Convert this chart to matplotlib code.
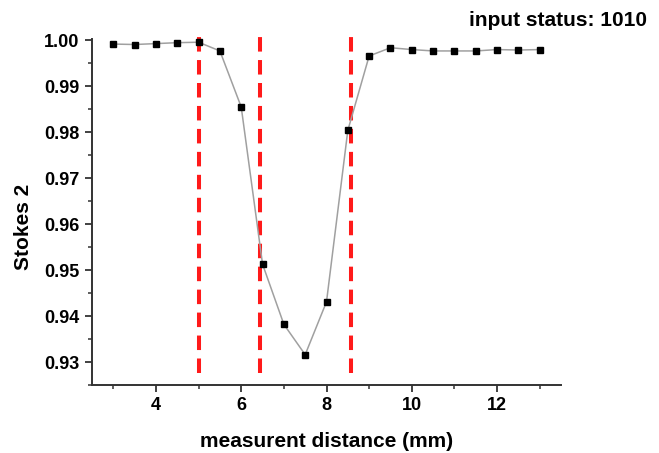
import matplotlib
matplotlib.use("Agg")
import matplotlib.pyplot as plt
from matplotlib.ticker import MultipleLocator, FormatStrFormatter

# --- Daten ---
distance = [3, 3.5, 4, 4.5, 5, 5.5, 6, 6.5, 7, 7.5, 8, 8.5, 9, 9.5, 10, 10.5, 11, 11.5, 12, 12.5, 13]
stokes2 = [0.9992, 0.9991, 0.9993, 0.9995, 0.9996, 0.9977, 0.9855, 0.9513, 0.9382, 0.9316, 0.9431,
           0.9804, 0.9966, 0.9984, 0.9980, 0.9977, 0.9977, 0.9977, 0.9980, 0.9979, 0.9980]
boundaries = [5.0, 6.45, 8.57]

plt.rcParams['font.family'] = ['Liberation Sans', 'DejaVu Sans']
plt.rcParams['font.weight'] = 'bold'

fig = plt.figure(figsize=(6.59, 4.53), dpi=100)
ax = fig.add_axes([92 / 659, 1 - 385 / 453, (561 - 92) / 659, (385 - 39) / 453])

# rote Grenzlinien
for b in boundaries:
    ax.plot([b, b], [0.9276, 1.002], color="#ff1a1a", linewidth=2.9,
            dashes=(3.6, 2.1), clip_on=False, zorder=2)

ax.plot(distance, stokes2, color="#a0a0a0", linewidth=1.1, marker="s",
        markersize=5, markerfacecolor="black", markeredgecolor="black",
        clip_on=False, zorder=3)

ax.set_xlim(2.5, 13.5)
ax.set_ylim(0.925, 1.0003)
ax.xaxis.set_major_locator(MultipleLocator(2))
ax.xaxis.set_minor_locator(MultipleLocator(1))
ax.yaxis.set_major_locator(MultipleLocator(0.01))
ax.yaxis.set_minor_locator(MultipleLocator(0.005))
ax.yaxis.set_major_formatter(FormatStrFormatter("%.2f"))

for s in ["top", "right"]:
    ax.spines[s].set_visible(False)
for s in ["left", "bottom"]:
    ax.spines[s].set_linewidth(1.4)
    ax.spines[s].set_color("#333333")

ax.tick_params(which="major", length=5, width=1.3, color="#333333", labelsize=13, pad=4)
ax.tick_params(which="minor", length=3, width=1.1, color="#333333")
for lab in ax.get_xticklabels() + ax.get_yticklabels():
    lab.set_fontweight("bold")

ax.set_xlabel("measurent distance (mm)", fontsize=15, fontweight="bold")
ax.xaxis.set_label_coords(327 / 659, 1 - 432 / 453, transform=fig.transFigure)
ax.set_ylabel("Stokes 2", fontsize=15, fontweight="bold")
ax.yaxis.set_label_coords(33 / 659, 226 / 453, transform=fig.transFigure)

fig.text(647 / 659, 1 - 20 / 453, "input status: 1010", ha="right", va="center",
         fontsize=15, fontweight="bold")

fig.savefig("out.png", dpi=100)
